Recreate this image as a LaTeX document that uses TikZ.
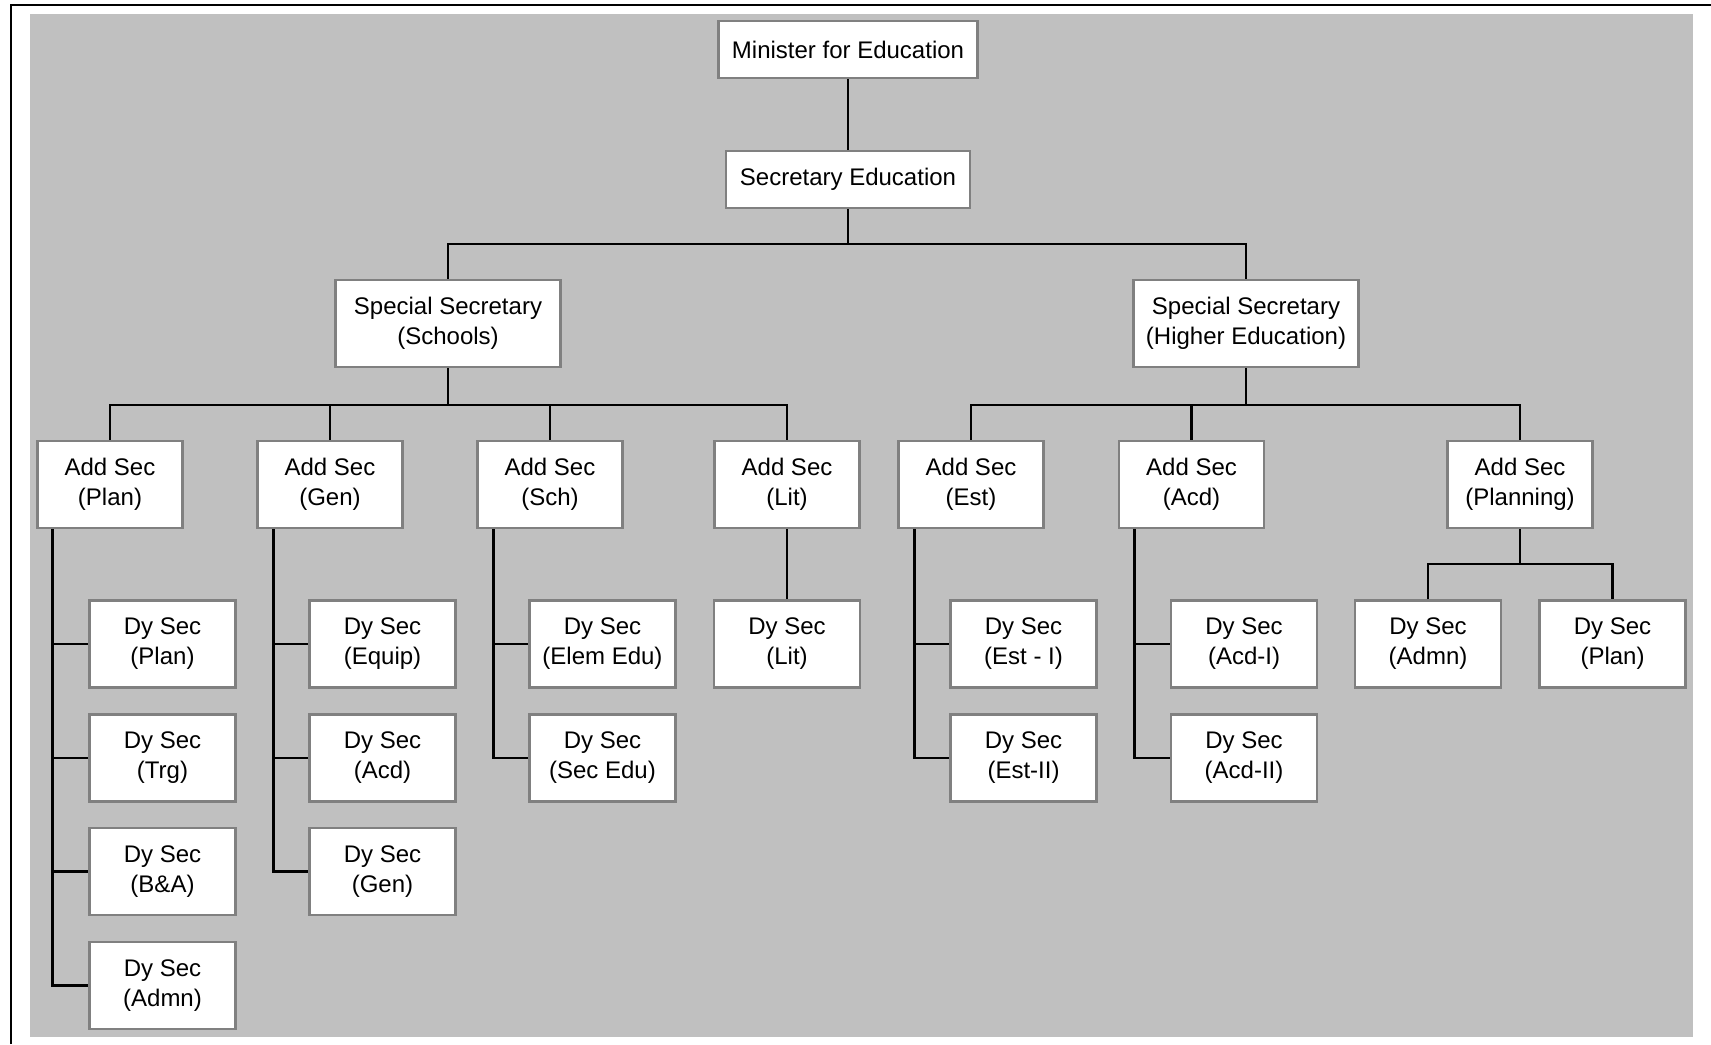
\documentclass[tikz,border=0pt]{standalone}
\usepackage{fontspec}
\setmainfont{Liberation Sans}
\usetikzlibrary{calc}
\definecolor{bggray}{HTML}{C0C0C0}
\definecolor{boxgray}{HTML}{808080}
\tikzset{
  box/.style={draw=boxgray, fill=white, line width=1.3pt, inner sep=0pt, align=center,
    font=\fontsize{12}{15}\selectfont, text=black},
  topbox/.style={box, minimum height=28.5pt},
  ssbox/.style={box, minimum width=112.5pt, minimum height=43.5pt},
  addbox/.style={box, minimum width=72.5pt, minimum height=43.5pt},
  dybox/.style={box, minimum width=73pt, minimum height=43.5pt},
  conn/.style={draw=black, line width=1.4pt},
}
\begin{document}
\begin{tikzpicture}[x=0.5pt,y=-0.5pt]
\useasboundingbox (0,0) rectangle (1711,1044);
\fill[bggray] (30,14) rectangle (1693,1037);
\draw[black, line width=1pt] (10.5,1044) -- (10.5,4.5) -- (1711,4.5);

% top levels
\node[topbox, minimum width=129.5pt] (min) at (848,49.5) {Minister for Education};
\node[topbox, minimum width=122pt] (sec) at (848,179.5) {Secretary Education};
\node[ssbox] (ss1) at (448,323.5) {Special Secretary\\(Schools)};
\node[ssbox] (ss2) at (1246,323.5) {Special Secretary\\(Higher Education)};

% additional secretaries
\node[addbox] (a1) at (110,484.5) {Add Sec\\(Plan)};
\node[addbox] (a2) at (330,484.5) {Add Sec\\(Gen)};
\node[addbox] (a3) at (550,484.5) {Add Sec\\(Sch)};
\node[addbox] (a4) at (787,484.5) {Add Sec\\(Lit)};
\node[addbox] (a5) at (971,484.5) {Add Sec\\(Est)};
\node[addbox] (a6) at (1191.5,484.5) {Add Sec\\(Acd)};
\node[addbox] (a7) at (1520,484.5) {Add Sec\\(Planning)};

% deputy secretaries
\node[dybox] (d11) at (162.5,644) {Dy Sec\\(Plan)};
\node[dybox] (d12) at (162.5,758) {Dy Sec\\(Trg)};
\node[dybox] (d13) at (162.5,871.5) {Dy Sec\\(B\&A)};
\node[dybox] (d14) at (162.5,985.5) {Dy Sec\\(Admn)};
\node[dybox] (d21) at (382.5,644) {Dy Sec\\(Equip)};
\node[dybox] (d22) at (382.5,758) {Dy Sec\\(Acd)};
\node[dybox] (d23) at (382.5,871.5) {Dy Sec\\(Gen)};
\node[dybox] (d31) at (602.5,644) {Dy Sec\\(Elem Edu)};
\node[dybox] (d32) at (602.5,758) {Dy Sec\\(Sec Edu)};
\node[dybox] (d41) at (787,644) {Dy Sec\\(Lit)};
\node[dybox] (d51) at (1023.5,644) {Dy Sec\\(Est - I)};
\node[dybox] (d52) at (1023.5,758) {Dy Sec\\(Est-II)};
\node[dybox] (d61) at (1244,644) {Dy Sec\\(Acd-I)};
\node[dybox] (d62) at (1244,758) {Dy Sec\\(Acd-II)};
\node[dybox] (d71) at (1428,644) {Dy Sec\\(Admn)};
\node[dybox] (d72) at (1612.5,644) {Dy Sec\\(Plan)};

% junction points
\coordinate (b1) at (848,244);
\coordinate (b2) at (448,405);
\coordinate (b3) at (1246,405);
\coordinate (b4) at (1520,564);

% connectors
\draw[conn] (min.south) -- (sec.north);
\draw[conn] (sec.south) -- (b1);
\draw[conn] (ss1.north) |- (b1) -| (ss2.north);

\draw[conn] (ss1.south) -- (b2);
\draw[conn] (a1.north) |- (b2) -| (a4.north);
\draw[conn] (a2.north) -- (a2.north |- b2);
\draw[conn] (a3.north) -- (a3.north |- b2);

\draw[conn] (ss2.south) -- (b3);
\draw[conn] (a5.north) |- (b3) -| (a7.north);
\draw[conn] (a6.north) -- (a6.north |- b3);

% spines
\coordinate (sp1) at ([xshift=8pt]a1.south west);
\coordinate (sp2) at ([xshift=8.5pt]a2.south west);
\coordinate (sp3) at ([xshift=8.5pt]a3.south west);
\coordinate (sp5) at ([xshift=8.5pt]a5.south west);
\coordinate (sp6) at ([xshift=8.5pt]a6.south west);

\draw[conn] (sp1) |- (d14.west);
\foreach \i in {1,2,3} \draw[conn] (sp1 |- d1\i.west) -- (d1\i.west);
\draw[conn] (sp2) |- (d23.west);
\foreach \i in {1,2} \draw[conn] (sp2 |- d2\i.west) -- (d2\i.west);
\draw[conn] (sp3) |- (d32.west);
\draw[conn] (sp3 |- d31.west) -- (d31.west);
\draw[conn] (a4.south) -- (d41.north);
\draw[conn] (sp5) |- (d52.west);
\draw[conn] (sp5 |- d51.west) -- (d51.west);
\draw[conn] (sp6) |- (d62.west);
\draw[conn] (sp6 |- d61.west) -- (d61.west);

\draw[conn] (a7.south) -- (b4);
\draw[conn] (d71.north) |- (b4) -| (d72.north);
\end{tikzpicture}
\end{document}
